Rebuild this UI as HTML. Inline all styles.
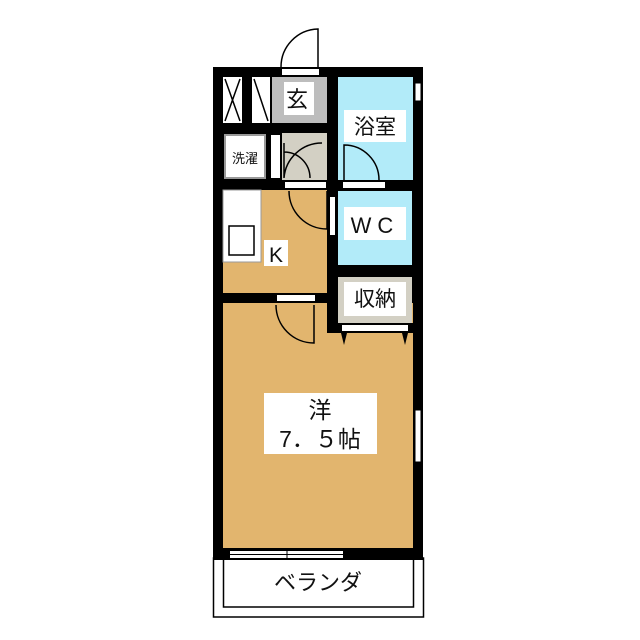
<!DOCTYPE html>
<html><head><meta charset="utf-8"><style>
html,body{margin:0;padding:0;background:#fff;}
svg{display:block;}
text{font-family:"Liberation Sans","Noto Sans CJK JP",sans-serif;fill:#111;}
</style></head><body>
<svg width="640" height="640" viewBox="0 0 640 640">
<rect x="213.5" y="558" width="210" height="59" fill="#fff" stroke="#000" stroke-width="1.5"/>
<rect x="223.5" y="558" width="190" height="49" fill="#fff" stroke="#000" stroke-width="1.5"/>
<rect x="213" y="67" width="210" height="493" fill="#000"/>
<rect x="223" y="303" width="190" height="245" fill="#e2b56e"/>
<rect x="327" y="293" width="11" height="40" fill="#000"/>
<rect x="327" y="323" width="86" height="10" fill="#000"/>
<rect x="223" y="77" width="19" height="46" fill="#fff"/>
<rect x="252" y="77" width="18" height="46" fill="#fff"/>
<path d="M225 79 L240 121 M240 79 L225 121 M254 79 L268 121" stroke="#000" stroke-width="1.5"/>
<rect x="272" y="77" width="55" height="46" fill="#bdbdbd"/>
<rect x="284" y="82" width="30" height="33" fill="#fff"/>
<rect x="338" y="77" width="75" height="103" fill="#b2ebf9"/>
<rect x="225" y="135" width="40" height="43" fill="#fff" stroke="#999" stroke-width="2"/>
<rect x="271" y="135" width="9" height="43" fill="#fff"/>
<rect x="282" y="133" width="45" height="47" fill="#d3d0c4"/>
<rect x="338" y="191" width="74" height="74" fill="#b2ebf9"/>
<rect x="338" y="277" width="74" height="46" fill="#d3d0c4"/>
<rect x="223" y="190" width="104" height="103" fill="#e2b56e"/>
<rect x="223" y="190" width="38" height="72" fill="#fff" stroke="#999" stroke-width="1"/>
<rect x="229" y="226" width="25" height="29" fill="#fff" stroke="#000" stroke-width="1.5"/>
<rect x="282" y="69" width="37" height="6" fill="#fff"/>
<path d="M281 67 A38 38 0 0 1 318 29 L318 67" fill="none" stroke="#000" stroke-width="1.5"/>
<rect x="343" y="182" width="42" height="6" fill="#fff"/>
<path d="M344 180 L344 145 A35 35 0 0 1 379 180" fill="none" stroke="#000" stroke-width="1.5"/>
<rect x="285" y="182" width="41" height="6" fill="#fff"/>
<path d="M284 178 L284 152 A26 26 0 0 1 310 178 M322 143 A38 38 0 0 0 284 178 L284 143" fill="none" stroke="#000" stroke-width="1.5"/>
<path d="M289 191 A38 38 0 0 0 327 229 L327 191" fill="none" stroke="#000" stroke-width="1.5"/>
<rect x="330" y="197" width="5" height="38" fill="#fff"/>
<rect x="277" y="295" width="38" height="6" fill="#fff"/>
<path d="M276 305 A38 38 0 0 0 314 343 L314 305" fill="none" stroke="#000" stroke-width="1.5"/>
<rect x="342" y="325" width="66" height="6" fill="#fff"/>
<path d="M341 333 L344 345 L347 333 M402 333 L405 345 L408 333" fill="#000"/>
<rect x="415" y="83" width="6" height="18" fill="#fff" stroke="#000" stroke-width="1"/>
<rect x="415" y="410" width="6" height="52" fill="#fff" stroke="#000" stroke-width="1"/>
<rect x="230" y="551" width="113" height="7" fill="#fff"/>
<path d="M230 554.5 H343 M287 550 V560" stroke="#000" stroke-width="1"/>
<rect x="344" y="110" width="62" height="32" fill="#fff"/>
<rect x="344" y="207" width="62" height="33" fill="#fff"/>
<rect x="264" y="240" width="24" height="26" fill="#fff"/>
<rect x="344" y="282" width="62" height="34" fill="#fff"/>
<rect x="264" y="393" width="113" height="61" fill="#fff"/>
<text x="297" y="107" font-size="22" text-anchor="middle">玄</text>
<text x="375" y="134" font-size="21" text-anchor="middle">浴室</text>
<text x="245" y="163" font-size="13" text-anchor="middle">洗濯</text>
<text x="375" y="233" font-size="22" text-anchor="middle" letter-spacing="6">WC</text>
<text x="276" y="262" font-size="21" text-anchor="middle">K</text>
<text x="375" y="306" font-size="21" text-anchor="middle">収納</text>
<text x="320" y="418" font-size="23" text-anchor="middle">洋</text>
<text x="320" y="447" font-size="23" text-anchor="middle">7．５帖</text>
<text x="318" y="590" font-size="22" text-anchor="middle">ベランダ</text>
</svg>
</body></html>
